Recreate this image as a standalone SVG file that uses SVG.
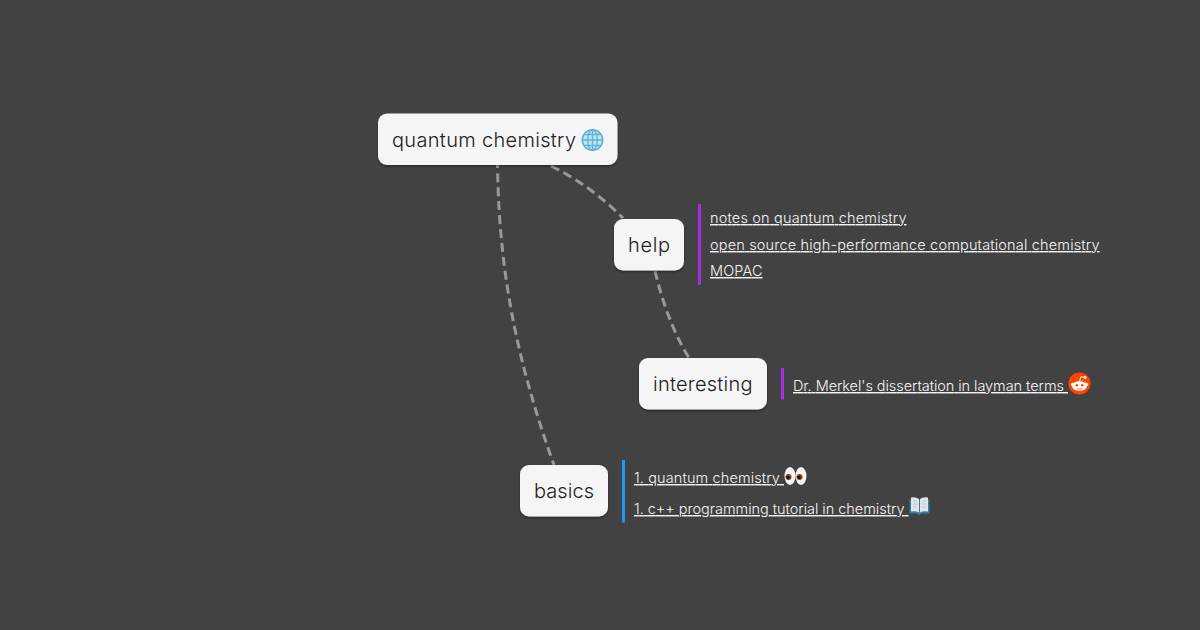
<svg xmlns="http://www.w3.org/2000/svg" width="1200" height="630" viewBox="0 0 1200 630">
<style>
.node{fill:#f5f5f5;filter:url(#sh)}
.nt{font-family:"Inter","Open Sans",sans-serif;font-size:20px;font-weight:300;fill:#222}
.lk{font-family:"Inter","Open Sans",sans-serif;font-size:14.5px;font-weight:300;fill:#f5f5f5;text-decoration:underline;white-space:pre}
.conn{fill:none;stroke:#999;stroke-width:3;stroke-dasharray:9 5}
</style>
<defs><filter id="sh" x="-10%" y="-15%" width="120%" height="135%"><feDropShadow dx="0" dy="1.5" stdDeviation="1.2" flood-color="#000" flood-opacity=".4"/></filter></defs>
<rect width="1200" height="630" fill="#424242"/>
<g id="connectors">
<path class="conn" stroke-dashoffset="6" d="M497.500 165C499 280 520 370 554 465"/>
<path class="conn" d="M551 166C580 180 605 200 623 218"/>
<path class="conn" d="M655 271C662 300 672 330 689 358"/>
</g>
<g id="node-root">
<rect class="node" x="378" y="113.500" width="239.500" height="51.500" rx="9"/>
<text class="nt" x="392" y="147" textLength="184" lengthAdjust="spacing">quantum chemistry</text>
<g fill="none" stroke="#5cb4d8" stroke-width="1.300"><circle cx="592.500" cy="140" r="10.200" fill="#bfe3f2" stroke-width="1.600"/><ellipse cx="592.500" cy="140" rx="4.800" ry="10.200"/><path d="M592.500 130V150M582.500 140H602.500M584 134.500H601M584 145.500H601"/></g>
</g>
<g id="node-help">
<rect class="node" x="614" y="219" width="70" height="51.500" rx="9"/>
<text class="nt" x="628" y="252" textLength="42" lengthAdjust="spacing">help</text>
<rect x="698" y="204" width="3" height="81" fill="#a52fe3"/>
<text class="lk" x="710" y="223" textLength="196.500" lengthAdjust="spacing">notes on quantum chemistry</text>
<text class="lk" x="710" y="250" textLength="389.500" lengthAdjust="spacing">open source high-performance computational chemistry</text>
<text class="lk" x="710" y="276" textLength="52.500" lengthAdjust="spacing">MOPAC</text>
</g>
<g id="node-interesting">
<rect class="node" x="639" y="358" width="128" height="51.500" rx="9"/>
<text class="nt" x="653" y="391" textLength="99.500" lengthAdjust="spacing">interesting</text>
<rect x="781" y="368" width="3" height="31.500" fill="#a52fe3"/>
<text class="lk" x="793" y="391" textLength="275" lengthAdjust="spacing">Dr. Merkel's dissertation in layman terms </text>
<circle cx="1079.500" cy="383.500" r="11" fill="#ff4500"/>
<ellipse cx="1079.500" cy="386" rx="7.500" ry="4.800" fill="#fff"/>
<circle cx="1072.500" cy="384.500" r="1.700" fill="#fff"/><circle cx="1086.500" cy="384.500" r="1.700" fill="#fff"/>
<path d="M1079.500 381.500L1081 376.500L1084.500 377.500" fill="none" stroke="#fff" stroke-width="1"/>
<circle cx="1085" cy="377.500" r="1.400" fill="#fff"/>
<circle cx="1076.800" cy="385.300" r="1.200" fill="#ff4500"/><circle cx="1082.200" cy="385.300" r="1.200" fill="#ff4500"/>
<path d="M1077 388.500Q1079.500 390 1082 388.500" fill="none" stroke="#ff4500" stroke-width=".8"/>
</g>
<g id="node-basics">
<rect class="node" x="520" y="465" width="88" height="51.500" rx="9"/>
<text class="nt" x="534" y="498" textLength="60" lengthAdjust="spacing">basics</text>
<rect x="622" y="460" width="3" height="62.500" fill="#1e9bf0"/>
<text class="lk" x="634" y="483" textLength="150" lengthAdjust="spacing">1. quantum chemistry </text>
<text class="lk" x="634" y="514" textLength="274.500" lengthAdjust="spacing">1. c++ programming tutorial in chemistry </text>
<ellipse cx="790" cy="476" rx="5.500" ry="9" fill="#f4f4f4"/><ellipse cx="801" cy="476" rx="5.500" ry="9" fill="#f4f4f4"/>
<circle cx="788.500" cy="477" r="3" fill="#7a4a10"/><circle cx="799.500" cy="477" r="3" fill="#7a4a10"/>
<circle cx="788" cy="477.300" r="1.600" fill="#111"/><circle cx="799" cy="477.300" r="1.600" fill="#111"/>
<path d="M909.500 513.500V499.500H929.500V513.500H920.500L919.500 515H918.500L917.500 513.500Z" fill="#2f7fa8"/>
<path d="M911 497.500Q915.500 496.500 919 499V512.500Q915.500 510.500 911 511.500ZM928 497.500Q923 496.500 920 499V512.500Q923 510.500 928 511.500Z" fill="#dfe6ec"/>
<path d="M913 501H917M913 504H917M913 507H917M922 501H926M922 504H926M922 507H926" stroke="#aab8c4" stroke-width=".7"/>
</g>
</svg>
